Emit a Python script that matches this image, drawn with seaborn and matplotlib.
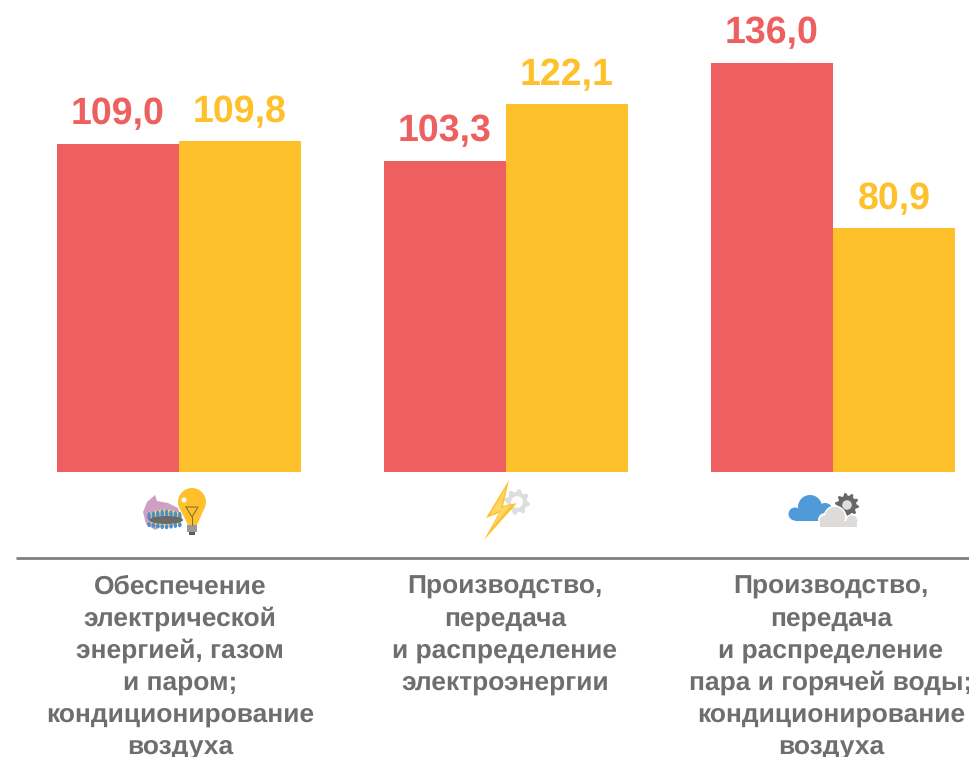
import numpy as np
import pandas as pd
import seaborn as sns
import matplotlib.pyplot as plt
from matplotlib.patches import Polygon, Circle, Ellipse, Rectangle

# Данные
categories = [
    "Обеспечение\nэлектрической\nэнергией, газом\nи паром;\nкондиционирование\nвоздуха",
    "Производство,\nпередача\nи распределение\nэлектроэнергии",
    "Производство,\nпередача\nи распределение\nпара и горячей воды;\nкондиционирование\nвоздуха",
]
series_names = ["a", "b"]
values_a = [109.0, 103.3, 136.0]
values_b = [109.8, 122.1, 80.9]

RED = "#EE5F60"
YELLOW = "#FFC12B"
GREY = "#6E6E6E"

sns.set_theme(style="white")
plt.rcParams["font.family"] = ["Liberation Sans", "DejaVu Sans"]
plt.rcParams["text.hinting"] = "no_hinting"

df = pd.DataFrame({
    "cat": categories * 2,
    "ser": [series_names[0]] * 3 + [series_names[1]] * 3,
    "val": values_a + values_b,
})

W, H = 970, 757
fig = plt.figure(figsize=(W / 100, H / 100), dpi=100)
ax = fig.add_axes([0, 0, 1, 1])
sns.barplot(data=df, x="cat", y="val", hue="ser", palette=[RED, YELLOW],
            width=0.746, gap=0, saturation=1, legend=False, linewidth=0, ax=ax)

# Масштаб: 327 px между группами, 3.007 px на единицу
ax.set_xlim(-179 / 327, (W - 179) / 327)
ax.set_ylim(-(H - 471.5) / 3.007, 471.5 / 3.007)
ax.axis("off")

for cont, col in zip(ax.containers, [RED, YELLOW]):
    ax.bar_label(cont, fmt=lambda v: f"{v:.1f}".replace(".", ","), color=col,
                 fontsize=27, fontweight="bold", padding=8.2)

# Слой в пикселях для линии, подписей и значков
ov = fig.add_axes([0, 0, 1, 1], facecolor="none")
ov.set_xlim(0, W)
ov.set_ylim(H, 0)
ov.axis("off")

ov.plot([16, W], [557.5, 557.5], color="#7F7F7F", lw=2, solid_capstyle="butt")

for cat, cx in zip(categories, [180, 505, 831]):
    for i, line in enumerate(cat.split("\n")):
        ov.text(cx, 593.3 + i * 32.2, line, ha="center", va="baseline", color=GREY,
                fontsize=19, fontweight="bold", clip_on=False)


def gear(x, y, r, col, teeth=8, hole="white", hole_r=0.45):
    ang = np.linspace(0, 2 * np.pi, teeth * 4, endpoint=False) + np.pi / (teeth * 4)
    rad = np.where(np.arange(teeth * 4) % 4 < 2, r, r * 0.78)
    ov.add_patch(Polygon(np.c_[x + rad * np.cos(ang), y + rad * np.sin(ang)], color=col, lw=0))
    ov.add_patch(Circle((x, y), r * hole_r, color=hole, lw=0))


def cloud(parts, base, col, z=3):
    for cx, cy, r in parts:
        ov.add_patch(Circle((cx, cy), r, color=col, lw=0, zorder=z))
    ov.add_patch(Rectangle(base[:2], base[2], base[3], color=col, lw=0, zorder=z))


# Значок 1: горелка и лампа
flame = [(155, 495), (157, 501), (168, 503), (178, 508), (181, 516), (155, 530),
         (146, 524), (143, 512), (147, 502)]
ov.add_patch(Polygon(flame, color="#CFA0C4", lw=0))
ov.add_patch(Ellipse((165, 518), 34, 17, color="#F6D66B", lw=0))
for fx in np.arange(149, 182, 4.4):
    ov.add_patch(Ellipse((fx, 513 + abs(fx - 165) * 0.2), 3.6, 8, color="#4C8FCB", lw=0))
    ov.add_patch(Ellipse((fx, 527 - abs(fx - 165) * 0.15), 3.6, 5, color="#4C8FCB", lw=0))
ov.add_patch(Ellipse((166, 520), 34, 8, color="#6A6A6A", lw=0))
ov.add_patch(Circle((192, 502), 14, color=YELLOW, lw=0))
ov.add_patch(Polygon([(180, 509), (204, 509), (197, 525), (188, 525)], color=YELLOW, lw=0))
ov.add_patch(Rectangle((187.5, 525), 10, 7, color="#9A9A9A", lw=0))
ov.add_patch(Rectangle((189.5, 532), 6, 3, color="#5A5A5A", lw=0))
ov.plot([186, 198, 192, 186], [507, 507, 517, 507], color="#7A6A30", lw=0.7)
ov.plot([192, 192], [517, 525], color="#7A6A30", lw=0.7)
ov.add_patch(Circle((184, 500), 2.5, color="white", lw=0))

# Значок 2: молния и шестерня
gear(517, 502, 13, "#DEDEDE")
bolt = [(509, 480), (486, 518), (499, 513), (484, 540), (517, 503), (503, 506)]
ov.add_patch(Polygon(bolt, color=YELLOW, lw=0))
ov.add_patch(Polygon([(506, 487), (490, 515), (501, 510), (492, 528), (511, 505), (501, 508)],
                     color="#FFD766", lw=0))

# Значок 3: облака и шестерня
cloud([(810, 507, 12), (795, 514, 6.5), (825, 511, 8)], (795, 511, 33, 9.5), "#4F9BD9")
gear(847, 505, 12, "#666666", teeth=10, hole="#DDDDDD", hole_r=0.4)
cloud([(835, 517, 11.5), (825, 520, 7), (852, 520.5, 6.5)], (818, 521, 40, 6), "white", z=3)
cloud([(835, 517, 10), (825, 521, 5.5), (852, 521, 5.5)], (820, 521, 37, 5.5), "#DDDCDA", z=4)

plt.savefig("out.png", dpi=100)
